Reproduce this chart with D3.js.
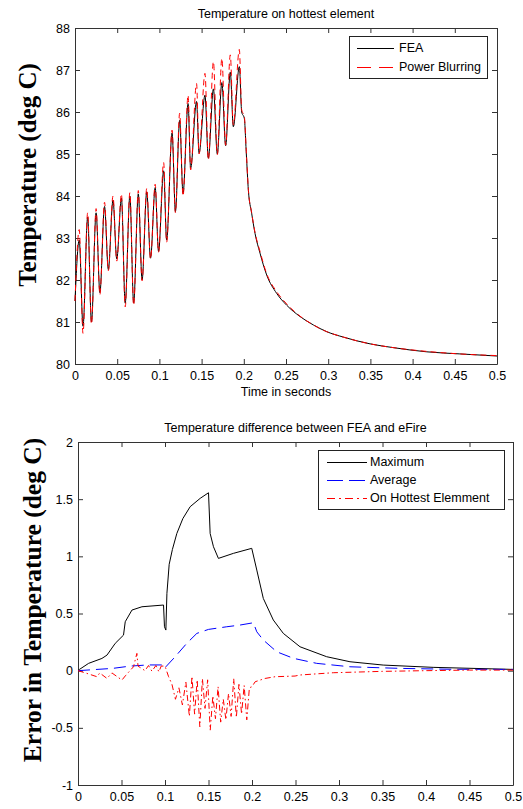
<!DOCTYPE html>
<html>
<head>
<meta charset="utf-8">
<script src="https://cdn.jsdelivr.net/npm/d3@7"></script>
<style>
    body { margin: 0; background: #fff; }
    svg { display: block; }
    .tick text { font-family: "Liberation Sans", Arial, sans-serif; font-size: 12.5px; fill: #000; }
    .tick line, .domain { stroke: #333; }
</style>
</head>
<body>
<svg id="chart" width="523" height="809"></svg>
<script>
"use strict";

// top panel: temperature on hottest element
const topTime = [0, .005, .0095, .015, .0195, .025, .0295, .035, .0395, .045, .0495, .055, .0595, .065, .0695, .075, .0795, .085, .0895, .095,
    .099, .105, .1086, .115, .119, .124, .128, .134, .137, .144, .147, .154, .158, .164, .1686, .174, .1785, .184, .1876, .1947,
    .1975, .2006, .203, .2054, .2093, .2133, .2192, .2271, .239, .2508, .2666, .2824, .2982, .318, .3495, .377, .4167, .456, .5];
const feaTemp = [81.5, 82.95, 80.9, 83.5, 81.0, 83.6, 81.7, 83.75, 82.25, 83.9, 82.5, 83.95, 81.45, 84.0, 81.45, 84.05, 82.0, 84.1, 82.52, 84.2,
    82.68, 84.6, 82.95, 85.5, 83.63, 85.8, 84.06, 86.2, 84.66, 86.25, 85.02, 86.4, 84.9, 86.55, 85.0, 86.7, 85.2, 86.95, 85.65, 87.08,
    86.0, 85.85, 85.0, 84.14, 83.59, 83.11, 82.64, 82.12, 81.68, 81.40, 81.13, 80.93, 80.77, 80.64, 80.48, 80.39, 80.29, 80.24, 80.19];
const blurTemp = [81.5, 83.2, 80.73, 83.6, 80.95, 83.7, 81.65, 83.85, 82.22, 84.0, 82.45, 84.05, 81.36, 84.08, 81.4, 84.13, 81.98, 84.18, 82.5, 84.28,
    82.66, 84.8, 82.9, 85.57, 83.6, 85.97, 84.0, 86.4, 84.62, 86.68, 85.0, 86.92, 84.86, 87.2, 84.98, 87.28, 85.21, 87.36, 85.69, 87.49,
    86.05, 85.9, 85.05, 84.16, 83.6, 83.13, 82.68, 82.15, 81.72, 81.43, 81.14, 80.93, 80.77, 80.64, 80.48, 80.39, 80.3, 80.24, 80.2];

// bottom panel: difference between FEA and eFire
const maxTime = [0, .0015, .0122, .0275, .0333, .0428, .0523, .0543, .062, .0735, .0983, .0994, .101, .1022, .1048, .1085, .1136, .1205, .1289, .1404, .15,
    .1519, .1557, .1614, .1786, .1997, .2055, .213, .2245, .236, .2552, .2858, .3126, .3508, .4082, .5];
const maxError = [0, .01, .064, .107, .136, .239, .311, .428, .53, .559, .574, .384, .355, .676, .93, 1.06, 1.20, 1.33, 1.434, 1.507, 1.556,
    1.20, 1.084, .982, 1.026, 1.07, .88, .632, .443, .326, .209, .122, .078, .049, .029, .011];

const avgTime = [0, .02, .04, .06, .08, .1, .1005, .1117, .125, .1366, .15, .171, .1863, .2016, .2055, .213, .2285, .2476, .2743, .3126, .37, .43, .5];
const avgError = [0, .01, .02, .04, .05, .05, .03, .122, .239, .326, .361, .384, .399, .419, .34, .268, .165, .108, .064, .034, .02, .012, .011];

const hotTime = [0, .0103, .0218, .025, .0333, .039, .0505, .055, .0638, .0677, .069, .077, .081, .085, .0895, .093, .0956, .100, .104,
    .108, .112, .116, .120, .124, .128, .131, .134, .137, .140, .143, .146, .149, .152, .155, .158, .161, .164, .167, .170, .173, .176,
    .179, .182, .185, .188, .191, .194, .197, .200, .2036, .215, .2265, .2495, .255, .2934, .35, .4, .45, .5];
const hotError = [0, -.024, -.053, -.02, -.068, -.02, -.082, -.04, .034, .151, .04, 0, .045, -.005, .045, -.01, .04, .04, -.05,
    -.12, -.25, -.15, -.30, -.10, -.40, -.05, -.38, -.08, -.49, -.07, -.33, -.08, -.52, -.22, -.42, -.14, -.45, -.25, -.43, -.20, -.40,
    -.07, -.41, -.12, -.38, -.13, -.43, -.15, -.14, -.097, -.068, -.053, -.047, -.038, -.018, -.006, 0, .005, .005];

// ticks
const xTicks = [0, .05, .1, .15, .2, .25, .3, .35, .4, .45, .5];
const topYTicks = [80, 81, 82, 83, 84, 85, 86, 87, 88];
const bottomYTicks = [-1, -.5, 0, .5, 1, 1.5, 2];


const svg = d3.select("#chart");
const sans = '"Liberation Sans", Arial, sans-serif',
      serif = '"Liberation Serif", "Times New Roman", serif';


function drawPanel(box, yDomain, yTicks, title, yLabel, yLabelPos, xLabel) {

    let g = svg.append("g");
    let x = d3.scaleLinear().domain([0, .5]).range([box.left, box.right]);
    let y = d3.scaleLinear().domain(yDomain).range([box.bottom, box.top]);
    let fmt = d => String(+d.toFixed(2));

    // axes, ticks pointing inwards on all four sides
    g.append("g").attr("transform", `translate(0,${box.bottom})`)
    .call(d3.axisBottom(x).tickValues(xTicks).tickFormat(fmt).tickSizeInner(-5).tickSizeOuter(0).tickPadding(7));
    g.append("g").attr("transform", `translate(0,${box.top})`)
    .call(d3.axisTop(x).tickValues(xTicks).tickFormat("").tickSizeInner(-5).tickSizeOuter(0));
    g.append("g").attr("transform", `translate(${box.left},0)`)
    .call(d3.axisLeft(y).tickValues(yTicks).tickFormat(fmt).tickSizeInner(-5).tickSizeOuter(0).tickPadding(5));
    g.append("g").attr("transform", `translate(${box.right},0)`)
    .call(d3.axisRight(y).tickValues(yTicks).tickFormat("").tickSizeInner(-5).tickSizeOuter(0));

    // title
    g.append("text")
    .attr("x", (box.left + box.right) / 2)
    .attr("y", box.top - 10)
    .attr("text-anchor", "middle")
    .style("font-family", sans)
    .style("font-size", "12.5px")
    .text(title);

    // y label
    g.append("text")
    .attr("transform", `translate(${yLabelPos[0]},${yLabelPos[1]}) rotate(-90)`)
    .attr("text-anchor", "middle")
    .style("font-family", serif)
    .style("font-weight", "bold")
    .style("font-size", yLabelPos[2] + "px")
    .text(yLabel);

    if (xLabel) {
        g.append("text")
        .attr("x", (box.left + box.right) / 2)
        .attr("y", box.bottom + 32)
        .attr("text-anchor", "middle")
        .style("font-family", sans)
        .style("font-size", "12.5px")
        .text(xLabel);
    }

    return {g: g, x: x, y: y};
}


function drawSeries(panel, times, values, color, dash, curve) {
    let line = d3.line()
    .x((d, i) => panel.x(times[i]))
    .y(d => panel.y(d))
    .curve(curve);

    panel.g.append("path")
    .datum(values)
    .attr("d", line)
    .attr("fill", "none")
    .attr("stroke", color)
    .attr("stroke-width", 1)
    .attr("stroke-dasharray", dash);
}


function drawLegend(panel, box, items) {
    let lg = panel.g.append("g").attr("transform", `translate(${box.x},${box.y})`);

    lg.append("rect")
    .attr("x", 0.5).attr("y", 0.5)
    .attr("width", box.w).attr("height", box.h)
    .attr("fill", "#fff")
    .attr("stroke", "#222");

    items.forEach((e, i) => {
        let cy = box.row0 + i * box.rowStep;
        lg.append("line")
        .attr("x1", box.lineX0).attr("x2", box.lineX1)
        .attr("y1", cy + 0.5).attr("y2", cy + 0.5)
        .attr("stroke", e.color)
        .attr("stroke-width", 1)
        .attr("stroke-dasharray", e.dash);
        lg.append("text")
        .attr("x", box.textX)
        .attr("y", cy)
        .attr("dy", "0.35em")
        .style("font-family", sans)
        .style("font-size", "12.5px")
        .text(e.label);
    });
}


// top panel
let topPanel = drawPanel({left: 75, right: 497, top: 28, bottom: 364}, [80, 88], topYTicks,
    "Temperature on hottest element", "Temperature (deg C)", [36, 175, 25], "Time in seconds");
drawSeries(topPanel, topTime, feaTemp, "#000", null, d3.curveMonotoneX);
drawSeries(topPanel, topTime, blurTemp, "#f00", "6,4", d3.curveMonotoneX);
drawLegend(topPanel, {x: 349, y: 36, w: 138, h: 42, row0: 12, rowStep: 19, lineX0: 8, lineX1: 45, textX: 50}, [
    {label: "FEA", color: "#000", dash: null},
    {label: "Power Blurring", color: "#ff0000", dash: "14,8"}
]);


// bottom panel
let bottomPanel = drawPanel({left: 78, right: 513, top: 442, bottom: 785}, [-1, 2], bottomYTicks,
    "Temperature difference between FEA and eFire", "Error in Temperature (deg C)", [41, 600, 25.5], null);
drawSeries(bottomPanel, maxTime, maxError, "#000", null, d3.curveLinear);
drawSeries(bottomPanel, avgTime, avgError, "#00f", "12,6", d3.curveLinear);
drawSeries(bottomPanel, hotTime, hotError, "#f00", "6,3,1.5,3", d3.curveLinear);
drawLegend(bottomPanel, {x: 318, y: 450, w: 186, h: 59, row0: 12, rowStep: 18, lineX0: 9, lineX1: 49, textX: 52}, [
    {label: "Maximum", color: "#000", dash: null},
    {label: "Average", color: "#00f", dash: "16,6"},
    {label: "On Hottest Elemment", color: "#f00", dash: "8,4,2,4"}
]);
</script>
</body>
</html>
